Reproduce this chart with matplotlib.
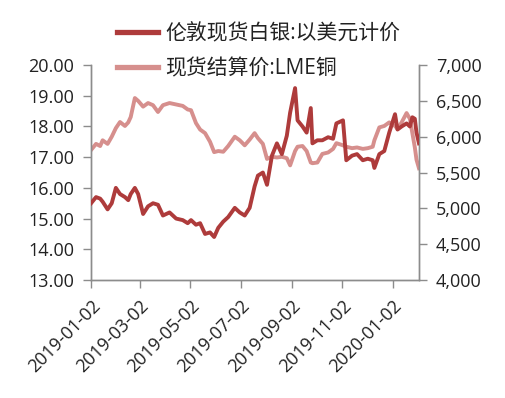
import matplotlib
matplotlib.use("Agg")
import matplotlib.pyplot as plt
import matplotlib.ticker as mticker
import pandas as pd

plt.rcParams['font.family'] = ['Open Sans', 'Noto Sans CJK SC', 'DejaVu Sans']

dates = ["2019-01-02", "2019-01-08", "2019-01-13", "2019-01-16", "2019-01-22", "2019-01-27",
         "2019-02-01", "2019-02-06", "2019-02-12", "2019-02-16", "2019-02-19", "2019-02-24",
         "2019-02-28", "2019-03-06", "2019-03-12", "2019-03-18", "2019-03-24", "2019-03-30",
         "2019-04-07", "2019-04-15", "2019-04-23", "2019-04-29", "2019-05-03", "2019-05-09",
         "2019-05-14", "2019-05-20", "2019-05-26", "2019-05-31", "2019-06-05", "2019-06-11",
         "2019-06-17", "2019-06-25", "2019-07-01", "2019-07-07", "2019-07-13", "2019-07-19",
         "2019-07-23", "2019-07-29", "2019-08-03", "2019-08-09", "2019-08-15", "2019-08-21",
         "2019-08-27", "2019-08-31", "2019-09-06", "2019-09-09", "2019-09-15", "2019-09-20",
         "2019-09-25", "2019-09-27", "2019-10-03", "2019-10-09", "2019-10-16", "2019-10-22",
         "2019-10-26", "2019-11-03", "2019-11-07", "2019-11-14", "2019-11-20", "2019-11-27",
         "2019-12-03", "2019-12-09", "2019-12-11", "2019-12-17", "2019-12-23", "2019-12-29",
         "2020-01-05", "2020-01-08", "2020-01-13", "2020-01-19", "2020-01-23", "2020-01-26",
         "2020-01-29", "2020-01-31", "2020-02-03"]

silver = [15.5, 15.7, 15.65, 15.55, 15.3, 15.5,
          16.0, 15.8, 15.7, 15.6, 15.8, 16.0,
          15.8, 15.15, 15.4, 15.5, 15.45, 15.1,
          15.2, 15.0, 14.95, 14.85, 14.95, 14.8,
          14.85, 14.5, 14.55, 14.4, 14.7, 14.9,
          15.05, 15.35, 15.2, 15.1, 15.35, 16.05,
          16.4, 16.5, 16.1, 17.05, 17.45, 17.1,
          17.7, 18.45, 19.25, 18.2, 18.0, 17.8,
          18.6, 17.45, 17.55, 17.55, 17.65, 17.6,
          18.1, 18.2, 16.9, 17.05, 17.1, 16.9,
          16.95, 16.9, 16.65, 17.1, 17.2, 17.8,
          18.4, 17.9, 18.0, 18.1, 18.0, 18.3,
          18.25, 17.8, 17.45]

copper = [5815, 5900, 5870, 5950, 5900, 6000,
          6120, 6205, 6150, 6200, 6275, 6540,
          6500, 6420, 6470, 6440, 6345, 6440,
          6470, 6450, 6430, 6380, 6370, 6190,
          6100, 6050, 5930, 5785, 5800, 5790,
          5870, 6000, 5950, 5880, 5960, 6050,
          5980, 5900, 5690, 5720, 5710, 5720,
          5700, 5600, 5800, 5860, 5870, 5800,
          5640, 5630, 5640, 5760, 5780, 5830,
          5910, 5880, 5860, 5840, 5850, 5830,
          5840, 5860, 5950, 6130, 6150, 6200,
          6150, 6110, 6200, 6330, 6250, 6050,
          5850, 5680, 5560]

tick_dates = ["2019-01-02", "2019-03-02", "2019-05-02", "2019-07-02",
              "2019-09-02", "2019-11-02", "2020-01-02"]

label_silver = "伦敦现货白银:以美元计价"
label_copper = "现货结算价:LME铜"

c_silver = "#AE3B3B"
c_copper = "#D68F8D"
axis_c = "#8C8C8C"
text_c = "#222222"

x = pd.to_datetime(dates)

fig = plt.figure(figsize=(5.06, 3.98), dpi=100)
ax = fig.add_axes([0.18, 0.2965, 0.648, 0.54])
ax2 = ax.twinx()

l1, = ax.plot(x, silver, color=c_silver, lw=2.8, label=label_silver, zorder=3)
l2, = ax2.plot(x, copper, color=c_copper, lw=2.8, label=label_copper, zorder=2)
ax.set_zorder(ax2.get_zorder() + 1)
ax.patch.set_visible(False)

ax.set_ylim(13, 20)
ax.yaxis.set_major_locator(mticker.MultipleLocator(1))
ax.yaxis.set_major_formatter(mticker.FormatStrFormatter('%.2f'))
ax2.set_ylim(4000, 7000)
ax2.yaxis.set_major_locator(mticker.MultipleLocator(500))
ax2.yaxis.set_major_formatter(mticker.FuncFormatter(lambda v, p: f"{int(v):,}"))

ax.set_xlim(pd.Timestamp("2019-01-02"), pd.Timestamp("2020-02-03"))
ax.set_xticks(pd.to_datetime(tick_dates))
ax.set_xticklabels(tick_dates, rotation=45, ha='right', rotation_mode='anchor')

for a in (ax, ax2):
    for s in a.spines.values():
        s.set_color(axis_c)
        s.set_linewidth(1.0)
    a.spines['top'].set_visible(False)
    a.tick_params(colors=axis_c, labelcolor=text_c, labelsize=13, length=6, width=1)

ax.tick_params(axis='x', pad=6)
ax.tick_params(axis='y', pad=6)
ax2.tick_params(axis='y', pad=6)

fig.legend(handles=[l1, l2], loc='upper left', bbox_to_anchor=(0.195, 0.988),
           frameon=False, fontsize=15, handlelength=1.95, handletextpad=0.33,
           labelspacing=0.68, labelcolor=text_c)
for h in fig.legends[0].get_lines():
    h.set_linewidth(3.8)

fig.savefig("out.png", dpi=100)
